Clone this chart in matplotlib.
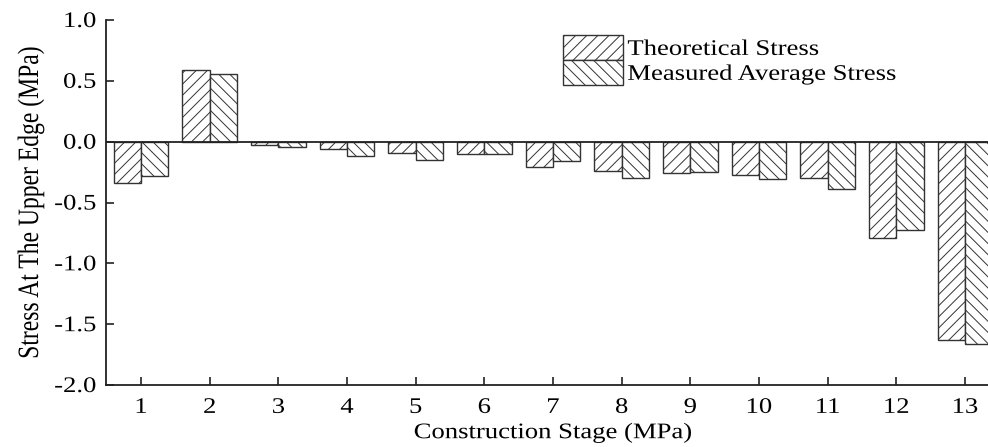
import matplotlib
matplotlib.use('Agg')

import matplotlib.pyplot as plt
import numpy as np
from matplotlib.patheffects import AbstractPathEffect
from matplotlib.transforms import Affine2D

stages = [str(i) for i in range(1, 14)]
theoretical = [-0.34, 0.59, -0.03, -0.06, -0.09, -0.10, -0.21, -0.24, -0.26, -0.27, -0.30, -0.79, -1.63]
measured = [-0.28, 0.56, -0.04, -0.12, -0.15, -0.10, -0.16, -0.30, -0.25, -0.31, -0.39, -0.73, -1.66]
yticks = [-2.0, -1.5, -1.0, -0.5, 0.0, 0.5, 1.0]


class Widen(AbstractPathEffect):
    # stretch text horizontally about its left / centre / right edge
    def __init__(self, sx=1.2, anchor='center'):
        super().__init__()
        self.sx = sx
        self.anchor = anchor

    def draw_path(self, renderer, gc, tpath, affine, rgbFace=None):
        ext = tpath.get_extents(affine)
        if self.anchor == 'left':
            x0 = ext.x0
        elif self.anchor == 'right':
            x0 = ext.x1
        else:
            x0 = (ext.x0 + ext.x1) / 2
        affine = affine + Affine2D().translate(-x0, 0).scale(self.sx, 1).translate(x0, 0)
        renderer.draw_path(gc, tpath, affine, rgbFace)


plt.rcParams['font.family'] = ['Liberation Serif', 'DejaVu Serif']
plt.rcParams['font.size'] = 16
plt.rcParams['hatch.linewidth'] = 0.7
plt.rcParams['hatch.color'] = '#333333'

fig = plt.figure(figsize=(9.88, 4.47), dpi=100)
ax = fig.add_axes([106 / 988, 62 / 447, 894 / 988, 365 / 447])

x = np.arange(1, len(stages) + 1)
w = 0.4
ax.bar(x - w / 2, theoretical, w, color='white', edgecolor='#333333', linewidth=1.0,
       hatch='///', label='Theoretical Stress')
ax.bar(x + w / 2, measured, w, color='white', edgecolor='#333333', linewidth=1.0,
       hatch='\\\\\\', label='Measured Average Stress')
ax.axhline(0, color='#222222', linewidth=1.3)

ax.set_xlim(0.49, 13.51)
ax.set_ylim(-2.0, 1.0)
ax.set_xticks(x)
ax.set_xticklabels(stages)
ax.set_yticks(yticks)
ax.set_yticklabels(['%.1f' % v for v in yticks])
ax.tick_params(direction='in', length=6, width=1.2, color='#222222')
ax.tick_params(axis='x', pad=10)
ax.tick_params(axis='y', pad=7)

for side in ['top', 'right']:
    ax.spines[side].set_visible(False)
for side in ['left', 'bottom']:
    ax.spines[side].set_linewidth(1.3)
    ax.spines[side].set_color('#222222')

ax.set_xlabel('Construction Stage (MPa)', labelpad=4)
ax.set_ylabel('Stress At The Upper Edge (MPa)', fontsize=17, labelpad=14)

leg = ax.legend(loc='upper left', bbox_to_anchor=((563 - 106) / 894, 1 - 15 / 365),
                frameon=False, handlelength=2.7, handleheight=1.35, handletextpad=0.2,
                labelspacing=0.0, borderpad=0.0, borderaxespad=0.0)

for lbl in ax.get_xticklabels():
    lbl.set_path_effects([Widen(1.2, 'center')])
for lbl in ax.get_yticklabels():
    lbl.set_path_effects([Widen(1.2, 'right')])
for t in leg.get_texts():
    t.set_path_effects([Widen(1.2, 'left')])
ax.xaxis.label.set_path_effects([Widen(1.2, 'center')])
ax.yaxis.label.set_path_effects([Widen(1.25, 'center')])

fig.savefig('out.png', dpi=100)
